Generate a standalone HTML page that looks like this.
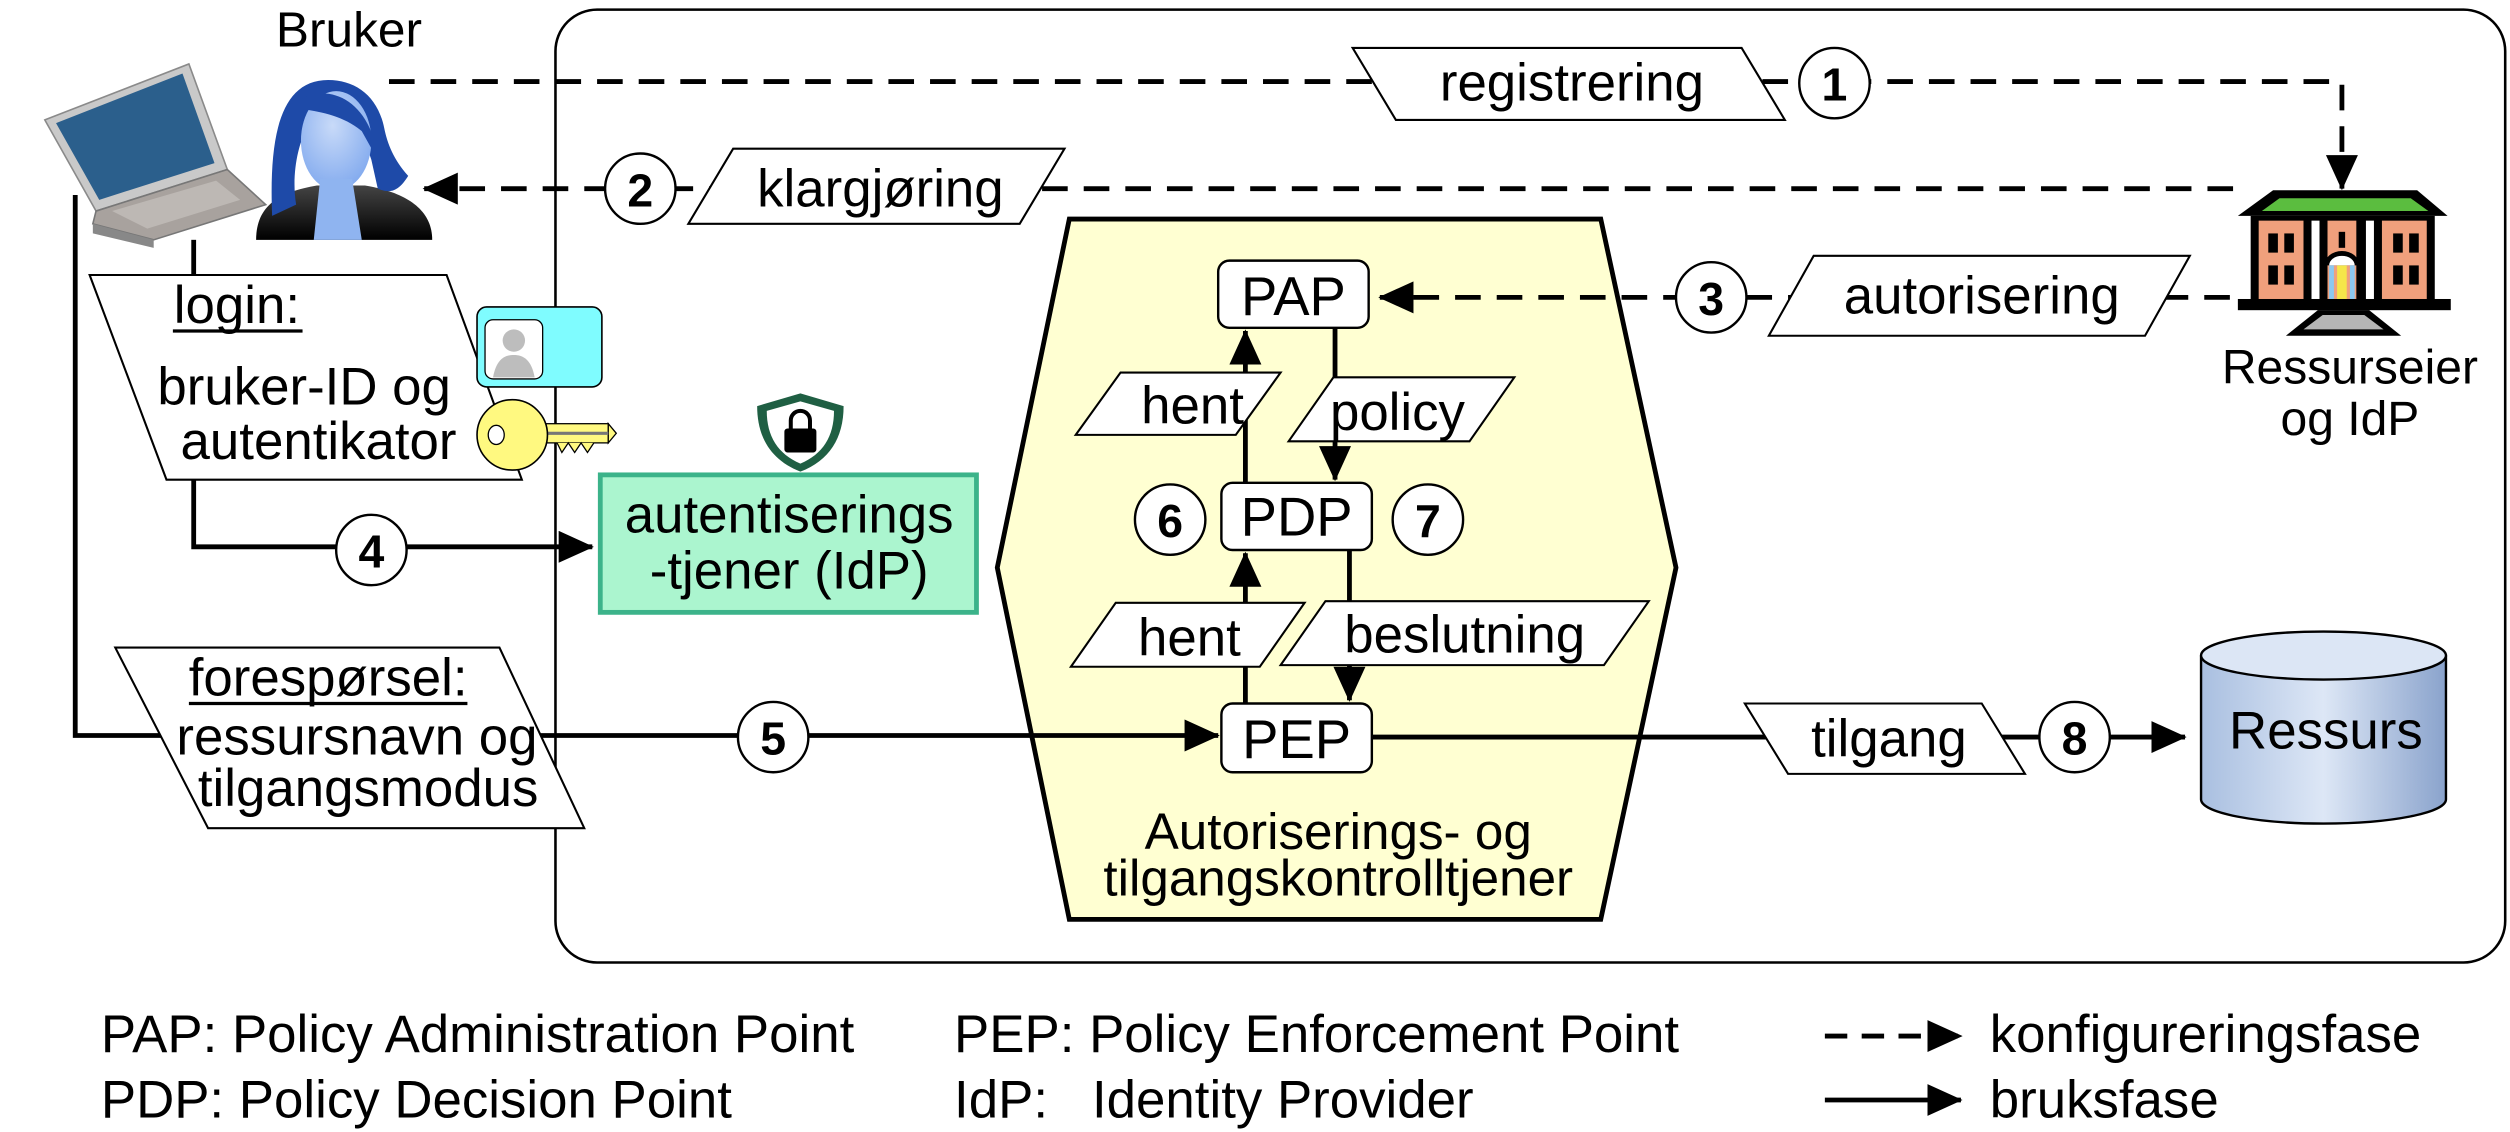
<!DOCTYPE html>
<html><head><meta charset="utf-8"><style>
html,body{margin:0;padding:0;background:#fff;}
svg{display:block;}
text{font-family:"Liberation Sans",sans-serif;fill:#000;}
</style></head><body>
<svg width="2510" height="1132" viewBox="0 0 1568 708" preserveAspectRatio="none" xmlns="http://www.w3.org/2000/svg">
<defs>
<marker id="ah2" markerWidth="22" markerHeight="20" refX="21" refY="10" orient="auto" markerUnits="userSpaceOnUse" viewBox="0 0 22 20">
<path d="M0,0 L22,10 L0,20 z" fill="#000"/></marker>
<linearGradient id="cyl" x1="0" x2="1"><stop offset="0" stop-color="#a9bfe0"/><stop offset="0.5" stop-color="#dde7f6"/><stop offset="1" stop-color="#8aa3cc"/></linearGradient>
<radialGradient id="face" cx="0.45" cy="0.35" r="0.7"><stop offset="0" stop-color="#c8daf8"/><stop offset="1" stop-color="#7fa8ee"/></radialGradient>
<linearGradient id="suit" x1="0" y1="0" x2="0" y2="1"><stop offset="0" stop-color="#444"/><stop offset="1" stop-color="#000"/></linearGradient>
</defs>

<rect x="347" y="6" width="1218" height="596" rx="26" fill="none" stroke="#000" stroke-width="1.6"/>

<polygon points="668,137 1000,137 1047,355 1000,575 668,575 623,355" fill="#ffffd2" stroke="#000" stroke-width="3"/>

<text x="218" y="29" font-size="31" text-anchor="middle">Bruker</text>
<!-- laptop -->
<g>
<polygon points="28,75 118,40 142,106 60,132" fill="#c9c9c9" stroke="#8a8a8a" stroke-width="1"/>
<polygon points="35,77 114,46 134,102 62,125" fill="#2b5f8c"/>
<polygon points="60,132 142,106 166,128 96,150 58,140" fill="#a8a29e" stroke="#777" stroke-width="1"/>
<polygon points="70,132 135,113 150,125 92,143" fill="#bdb8b4"/>
<polygon points="58,140 96,150 96,155 58,146" fill="#888"/>
</g>
<!-- person -->
<g>
<path d="M160,150 C160,128 175,120 198,116 L228,116 C252,120 270,130 270,150 Z" fill="url(#suit)"/>
<path d="M205,50 C175,50 168,85 170,135 L185,128 C182,110 186,90 192,80 C210,75 228,85 232,100 L236,118 C245,122 250,118 255,110 C246,100 242,90 240,80 C236,60 222,50 205,50 Z" fill="#1e4aa8"/>
<ellipse cx="210" cy="88" rx="22" ry="31" fill="url(#face)"/>
<polygon points="200,112 220,112 226,150 196,150" fill="#8fb4f0"/>
<path d="M188,62 C205,52 232,62 236,100 L226,82 C214,72 200,70 188,68 Z" fill="#1e4aa8"/>
</g>

<!-- dashed 1 -->
<path d="M243,51 L1463,51 L1463,118" fill="none" stroke="#000" stroke-width="3" stroke-dasharray="16,10" marker-end="url(#ah2)"/>
<polygon points="845,30 1088,30 1115,75 872,75" fill="#fff" stroke="#000" stroke-width="1.3"/>
<text x="982" y="63" font-size="33" text-anchor="middle">registrering</text>
<circle cx="1146" cy="52" r="22" fill="#fff" stroke="#000" stroke-width="1.5"/>
<text x="1146" y="63" font-size="29" font-weight="bold" text-anchor="middle">1</text>

<!-- dashed 2 -->
<path d="M1395,118 L265,118" fill="none" stroke="#000" stroke-width="3" stroke-dasharray="16,10" marker-end="url(#ah2)"/>
<polygon points="458,93 665,93 637,140 430,140" fill="#fff" stroke="#000" stroke-width="1.3"/>
<text x="550" y="129" font-size="33" text-anchor="middle">klargjøring</text>
<circle cx="400" cy="118" r="22" fill="#fff" stroke="#000" stroke-width="1.5"/>
<text x="400" y="129" font-size="29" font-weight="bold" text-anchor="middle">2</text>

<!-- building -->
<g>
<polygon points="1398,135 1420,119 1510,119 1529,135" fill="#000"/>
<polygon points="1413,132 1424,124 1506,124 1517,132" fill="#5bbd3f"/>
<rect x="1406" y="135" width="115" height="54" fill="#000"/>
<rect x="1411" y="138" width="28" height="50" fill="#f0a07c"/>
<rect x="1488" y="138" width="28" height="50" fill="#f0a07c"/>
<rect x="1454" y="138" width="18" height="50" fill="#f0a07c"/>
<rect x="1444" y="138" width="5" height="50" fill="#fff"/>
<rect x="1478" y="138" width="5" height="50" fill="#fff"/>
<path d="M1452,166 A11,9 0 0 1 1474,166 Z" fill="#000"/>
<path d="M1455,166 A8,6 0 0 1 1471,166 Z" fill="#fff"/>
<rect x="1455" y="166" width="3" height="22" fill="#8cc8f0"/>
<rect x="1460" y="166" width="6" height="22" fill="#f5e64a"/>
<rect x="1468" y="166" width="3" height="22" fill="#8cc8f0"/>
<rect x="1461" y="145" width="4" height="10" fill="#000"/>
<rect x="1417" y="146" width="6" height="12" fill="#000"/><rect x="1427" y="146" width="6" height="12" fill="#000"/>
<rect x="1417" y="166" width="6" height="12" fill="#000"/><rect x="1427" y="166" width="6" height="12" fill="#000"/>
<rect x="1495" y="146" width="6" height="12" fill="#000"/><rect x="1505" y="146" width="6" height="12" fill="#000"/>
<rect x="1495" y="166" width="6" height="12" fill="#000"/><rect x="1505" y="166" width="6" height="12" fill="#000"/>
<rect x="1398" y="187" width="133" height="7" fill="#000"/>
<polygon points="1428,210 1448,194 1480,194 1500,210" fill="#000"/>
<polygon points="1439,206 1451,197 1477,197 1489,206" fill="#b5b5b5"/>
</g>
<text x="1468" y="240" font-size="30" text-anchor="middle">Ressurseier</text>
<text x="1468" y="272" font-size="30" text-anchor="middle">og IdP</text>

<!-- dashed 3 -->
<path d="M1393,186 L862,186" fill="none" stroke="#000" stroke-width="3" stroke-dasharray="16,10" marker-end="url(#ah2)"/>
<polygon points="1133,160 1368,160 1340,210 1105,210" fill="#fff" stroke="#000" stroke-width="1.3"/>
<text x="1238" y="196" font-size="33" text-anchor="middle">autorisering</text>
<circle cx="1069" cy="186" r="22" fill="#fff" stroke="#000" stroke-width="1.5"/>
<text x="1069" y="197" font-size="29" font-weight="bold" text-anchor="middle">3</text>

<line x1="778" y1="302" x2="778" y2="207" stroke="#000" stroke-width="3" marker-end="url(#ah2)"/>
<line x1="834" y1="205" x2="834" y2="300" stroke="#000" stroke-width="3" marker-end="url(#ah2)"/>
<line x1="778" y1="440" x2="778" y2="346" stroke="#000" stroke-width="3" marker-end="url(#ah2)"/>
<line x1="843" y1="344" x2="843" y2="438" stroke="#000" stroke-width="3" marker-end="url(#ah2)"/>

<polygon points="700,233 800,233 772,272 672,272" fill="#fff" stroke="#000" stroke-width="1.3"/>
<text x="745" y="265" font-size="33" text-anchor="middle">hent</text>
<polygon points="833,236 946,236 918,276 805,276" fill="#fff" stroke="#000" stroke-width="1.3"/>
<text x="873" y="269" font-size="33" text-anchor="middle">policy</text>
<polygon points="697,377 815,377 787,417 669,417" fill="#fff" stroke="#000" stroke-width="1.3"/>
<text x="743" y="410" font-size="33" text-anchor="middle">hent</text>
<polygon points="828,376 1030,376 1002,416 800,416" fill="#fff" stroke="#000" stroke-width="1.3"/>
<text x="915" y="408" font-size="33" text-anchor="middle">beslutning</text>

<rect x="761" y="163" width="94" height="42" rx="7" fill="#fff" stroke="#000" stroke-width="1.5"/>
<text x="808" y="197" font-size="34" text-anchor="middle">PAP</text>
<rect x="763" y="302" width="94" height="42" rx="7" fill="#fff" stroke="#000" stroke-width="1.5"/>
<text x="810" y="335" font-size="34" text-anchor="middle">PDP</text>
<rect x="763" y="440" width="94" height="43" rx="7" fill="#fff" stroke="#000" stroke-width="1.5"/>
<text x="810" y="474" font-size="34" text-anchor="middle">PEP</text>

<circle cx="731" cy="325" r="22" fill="#fff" stroke="#000" stroke-width="1.5"/>
<text x="731" y="336" font-size="29" font-weight="bold" text-anchor="middle">6</text>
<circle cx="892" cy="325" r="22" fill="#fff" stroke="#000" stroke-width="1.5"/>
<text x="892" y="336" font-size="29" font-weight="bold" text-anchor="middle">7</text>

<text x="836" y="531" font-size="32" text-anchor="middle">Autoriserings- og</text>
<text x="836" y="560" font-size="32" text-anchor="middle">tilgangskontrolltjener</text>

<line x1="857" y1="461" x2="1365" y2="461" stroke="#000" stroke-width="3" marker-end="url(#ah2)"/>
<polygon points="1090,440 1238,440 1265,484 1117,484" fill="#fff" stroke="#000" stroke-width="1.3"/>
<text x="1180" y="473" font-size="33" text-anchor="middle">tilgang</text>
<circle cx="1296" cy="461" r="22" fill="#fff" stroke="#000" stroke-width="1.5"/>
<text x="1296" y="472" font-size="29" font-weight="bold" text-anchor="middle">8</text>

<path d="M1375,410 L1375,500 A76,15 0 0 0 1528,500 L1528,410" fill="url(#cyl)" stroke="#000" stroke-width="1.5"/>
<ellipse cx="1451.5" cy="410" rx="76.5" ry="15" fill="#dce6f5" stroke="#000" stroke-width="1.5"/>
<text x="1453" y="468" font-size="33" text-anchor="middle">Ressurs</text>

<line x1="121" y1="150" x2="121" y2="172" stroke="#000" stroke-width="3"/>
<polyline points="121,300 121,342 370,342" fill="none" stroke="#000" stroke-width="3" marker-end="url(#ah2)"/>
<polyline points="47,122 47,460 761,460" fill="none" stroke="#000" stroke-width="3" marker-end="url(#ah2)"/>

<circle cx="232" cy="344" r="22" fill="#fff" stroke="#000" stroke-width="1.5"/>
<text x="232" y="355" font-size="29" font-weight="bold" text-anchor="middle">4</text>

<polygon points="56,172 279,172 326,300 104,300" fill="#fff" stroke="#000" stroke-width="1.3"/>
<text x="148" y="202" font-size="33" text-anchor="middle">login:</text>
<line x1="108" y1="207" x2="189" y2="207" stroke="#000" stroke-width="2"/>
<text x="190" y="253" font-size="33" text-anchor="middle">bruker-ID og</text>
<text x="199" y="287" font-size="33" text-anchor="middle">autentikator</text>

<rect x="298" y="192" width="78" height="50" rx="6" fill="#7ffcff" stroke="#000" stroke-width="1"/>
<rect x="303" y="200" width="36" height="37" rx="5" fill="#fff" stroke="#000" stroke-width="0.8"/>
<circle cx="321" cy="213" r="7" fill="#bdbdbd"/>
<path d="M308,236 C310,225 315,222 321,222 C327,222 332,225 334,236 Z" fill="#bdbdbd"/>
<rect x="338" y="265" width="42" height="12" fill="#fff980" stroke="#000" stroke-width="0.8"/>
<polygon points="380,265 385,271 380,277" fill="#fff980" stroke="#000" stroke-width="0.8"/>
<polyline points="348,277 351,283 355,277 359,283 363,277 367,283 371,277" fill="#fff980" stroke="#000" stroke-width="0.8"/>
<line x1="342" y1="271" x2="380" y2="271" stroke="#777" stroke-width="2"/>
<circle cx="320" cy="272" r="22" fill="#fff980" stroke="#000" stroke-width="1"/>
<ellipse cx="310" cy="272" rx="5" ry="6" fill="#fff" stroke="#000" stroke-width="0.8"/>

<path d="M500,246 L527,254 C527,274 518,288 500,295 C482,288 473,274 473,254 Z" fill="#1f5f43"/>
<path d="M500,251 L521,257 C521,273 514,284 500,290 C486,284 479,273 479,257 Z" fill="#fff"/>
<path d="M494,268 L494,263 A6,6 0 0 1 506,263 L506,268" fill="none" stroke="#000" stroke-width="2.5"/>
<rect x="490" y="268" width="20" height="15" rx="2" fill="#000"/>

<rect x="375" y="297" width="235" height="86" fill="#abf5cf" stroke="#3cb38a" stroke-width="3"/>
<text x="493" y="333" font-size="33" text-anchor="middle">autentiserings</text>
<text x="493" y="368" font-size="33" text-anchor="middle">-tjener (IdP)</text>

<polygon points="72,405 312,405 365,518 130,518" fill="#fff" stroke="#000" stroke-width="1.3"/>
<text x="205" y="435" font-size="33" text-anchor="middle">forespørsel:</text>
<line x1="118" y1="440" x2="292" y2="440" stroke="#000" stroke-width="2"/>
<text x="223" y="472" font-size="33" text-anchor="middle">ressursnavn og</text>
<text x="230" y="504" font-size="33" text-anchor="middle">tilgangsmodus</text>

<circle cx="483" cy="461" r="22" fill="#fff" stroke="#000" stroke-width="1.5"/>
<text x="483" y="472" font-size="29" font-weight="bold" text-anchor="middle">5</text>

<text x="63" y="658" font-size="33">PAP: Policy Administration Point</text>
<text x="63" y="699" font-size="33">PDP: Policy Decision Point</text>
<text x="596" y="658" font-size="33">PEP: Policy Enforcement Point</text>
<text x="596" y="699" font-size="33" xml:space="preserve">IdP:   Identity Provider</text>
<line x1="1140" y1="648" x2="1225" y2="648" stroke="#000" stroke-width="3" stroke-dasharray="14,9" marker-end="url(#ah2)"/>
<line x1="1140" y1="688" x2="1225" y2="688" stroke="#000" stroke-width="3" marker-end="url(#ah2)"/>
<text x="1243" y="658" font-size="33">konfigureringsfase</text>
<text x="1243" y="699" font-size="33">bruksfase</text>
</svg>
</body></html>
